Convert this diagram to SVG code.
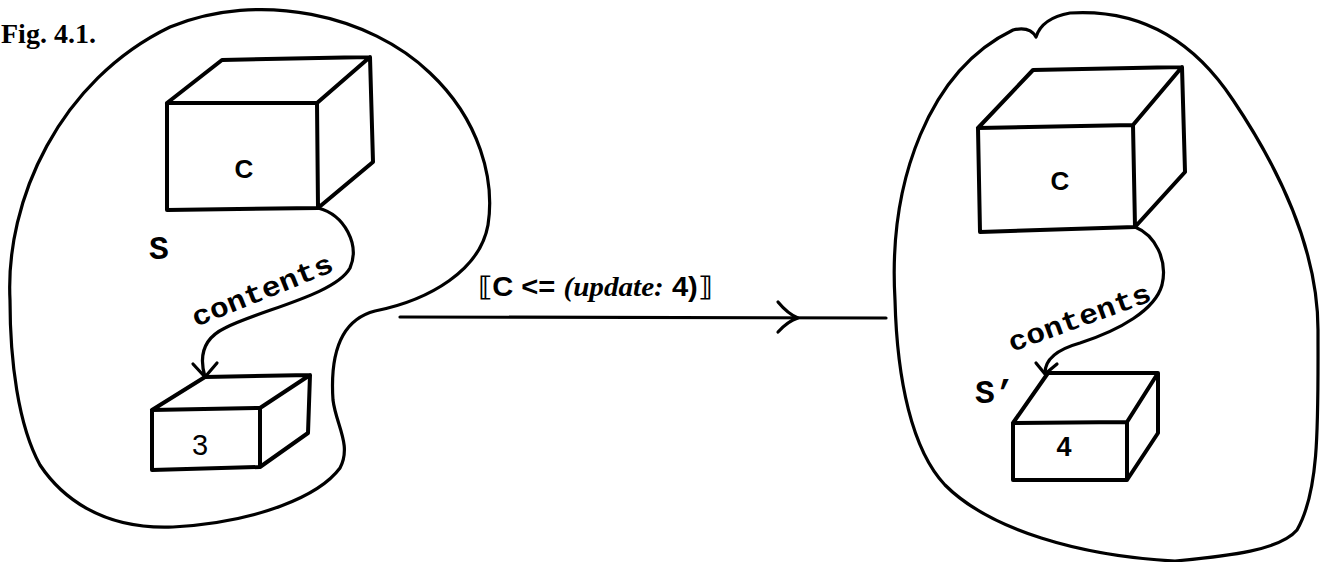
<svg xmlns="http://www.w3.org/2000/svg" width="1320" height="562" viewBox="0 0 1320 562">
<style>
.blob{fill:none;stroke:#000;stroke-width:3.2;stroke-linejoin:round}
.box{fill:none;stroke:#000;stroke-width:4;stroke-linejoin:round;stroke-linecap:round}
.con{fill:none;stroke:#000;stroke-width:3.2;stroke-linecap:round;stroke-linejoin:round}
.lbl{font-family:"Liberation Sans",Arial,sans-serif;fill:#000}
.mono{font-family:"Liberation Mono","Courier New",monospace;font-weight:bold;fill:#000}
</style>
<rect width="1320" height="562" fill="#fff"/>
<text x="1" y="43" font-family="Liberation Serif, Times New Roman, serif" font-weight="bold" font-size="28">Fig. 4.1.</text>

<g id="state-S">
<path class="blob" d="M 10,300 C 5,200 60,80 170,27 C 260,-10 370,15 430,73 C 480,120 495,180 488,225 C 480,270 430,300 375,311 C 340,320 330,355 333,400 C 336,425 352,445 340,468 C 320,495 260,522 173,527 C 100,530 60,495 40,465 C 18,425 10,360 10,300 Z"/>
<text class="mono" x="149" y="259" font-size="33">S</text>
</g>

<g id="box-C-left">
<path class="box" d="M 167,103 L 317,103 L 318,208 L 167,210 Z M 167,103 L 222,60 L 370,57 L 317,103 M 370,57 L 373,162 L 318,208"/>
<text class="lbl" x="244" y="178" font-size="26" font-weight="bold" text-anchor="middle">C</text>
</g>

<g id="box-3">
<path class="box" d="M 152,410 L 260,408 L 260,467 L 152,470 Z M 152,410 L 205,377 L 310,375 L 260,408 M 310,375 L 308,433 L 260,467"/>
<text class="lbl" x="200" y="455" font-size="29" text-anchor="middle">3</text>
</g>

<g id="state-S-prime">
<path class="blob" d="M 895,300 C 888,180 930,70 1013,30 Q 1030,26 1036,37 Q 1042,18 1070,13 C 1150,8 1200,50 1233,100 C 1280,170 1318,250 1318,330 C 1318,420 1320,490 1297,530 C 1280,550 1230,556 1175,561 C 1080,556 990,530 945,485 C 912,450 897,380 895,300 Z"/>
<text class="mono" x="975" y="403" font-size="33">S’</text>
</g>

<g id="box-C-right">
<path class="box" d="M 978,128 L 1133,125 L 1135,227 L 980,232 Z M 978,128 L 1033,70 L 1182,67 L 1133,125 M 1182,67 L 1185,172 L 1135,227"/>
<text class="lbl" x="1060" y="190" font-size="26" font-weight="bold" text-anchor="middle">C</text>
</g>

<g id="box-4">
<path class="box" d="M 1013,423 L 1127,422 L 1127,480 L 1013,480 Z M 1013,423 L 1048,373 L 1158,373 L 1127,422 M 1158,373 L 1158,433 L 1127,480"/>
<text class="lbl" x="1064" y="456" font-size="27" font-weight="bold" text-anchor="middle">4</text>
</g>

<g id="connectors">
<path class="con" d="M 318,208 C 345,215 360,245 350,268 C 335,295 260,310 225,328 C 200,340 200,360 205,377"/>
<path class="con" d="M 193,364 L 205,377 L 217,363"/>
<text class="mono" font-size="28" transform="translate(196,327) rotate(-22)" textLength="150" lengthAdjust="spacingAndGlyphs">contents</text>

<path class="con" d="M 1135,227 C 1155,235 1168,260 1162,285 C 1155,310 1120,330 1080,343 C 1055,350 1045,360 1045,373"/>
<path class="con" d="M 1036,363 L 1045,374 L 1057,364"/>
<text class="mono" font-size="28" transform="translate(1012,352) rotate(-20)" textLength="150" lengthAdjust="spacingAndGlyphs">contents</text>

<path class="con" d="M 400,317 L 886,318"/>
<path class="con" d="M 778,302 Q 788,314 798,318 Q 788,321 778,332"/>
<text x="478" y="296" font-size="27" font-weight="bold" textLength="234" lengthAdjust="spacingAndGlyphs" font-family="Liberation Sans, DejaVu Sans, sans-serif">⟦C &lt;= <tspan font-family="Liberation Serif, serif" font-style="italic">(update:</tspan> 4)⟧</text>
</g>
</svg>
